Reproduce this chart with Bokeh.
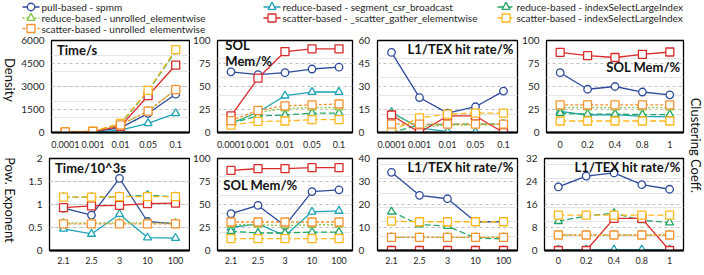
from math import pi
from bokeh.plotting import figure
from bokeh.models import (Range1d, FactorRange, LinearAxis, Grid, FixedTicker, Label,
                          ColumnDataSource, NumeralTickFormatter)
from bokeh.core.properties import value
from bokeh.layouts import row, column
from bokeh.embed import file_html
from bokeh.resources import INLINE

FONT = "Lato"
TXT = "#262626"

# ---------------- data ----------------
density = ["0.0001", "0.001", "0.01", "0.05", "0.1"]
pow_exponent = ["2.1", "2.5", "3", "10", "100"]
clustering = ["0", "0.2", "0.4", "0.8", "1"]

series_names = [
    "pull-based - spmm",
    "reduce-based - segment_csr_broadcast",
    "reduce-based - indexSelectLargeIndex",
    "reduce-based - unrolled_elementwise",
    "scatter-based - _scatter_gather_elementwise",
    "scatter-based - indexSelectLargeIndex",
    "scatter-based - unrolled_elementwise",
]

# each list: values of the 7 series, in legend order
density_time_s = [
    [50, 60, 300, 1250, 2500],
    [20, 30, 150, 600, 1250],
    [40, 60, 550, 2700, 5300],
    [40, 60, 500, 1400, 2800],
    [40, 60, 400, 2400, 4400],
    [50, 80, 600, 2750, 5400],
    [40, 70, 500, 1400, 2800],
]
density_sol_mem = [
    [66, 63, 65, 69, 71],
    [10, 22, 40, 44, 44],
    [10, 18, 19, 21, 21],
    [10, 22, 26, 27, 27],
    [18, 59, 88, 91, 91],
    [8, 12, 12.5, 14, 14],
    [13, 24, 29, 30, 31],
]
density_l1_hit = [
    [87, 38, 21, 28, 45],
    [22, 5, 1, 0.5, 0],
    [0, 8, 9, 9, 9],
    [20, 6, 8, 8, 9],
    [19, 0, 18, 18, 0],
    [2, 16, 20, 21, 21],
    [9, 9, 9, 9, 9],
]
clustering_sol_mem = [
    [65, 47, 50, 44, 41],
    [23, 19, 19.5, 17.5, 17],
    [21, 20, 20, 19.5, 19.5],
    [27, 27, 27, 27, 27],
    [87, 83.5, 81.5, 85, 87.5],
    [12.5, 12.5, 12.5, 12.5, 12.5],
    [30, 30, 30, 30, 30],
]
pow_time_ks = [
    [0.92, 0.77, 1.57, 0.63, 0.58],
    [0.47, 0.36, 0.79, 0.28, 0.27],
    [1.16, 1.16, 1.17, 1.2, 1.17],
    [0.6, 0.6, 0.6, 0.6, 0.6],
    [0.93, 0.97, 0.98, 1.02, 1.03],
    [1.16, 1.16, 1.17, 1.17, 1.17],
    [0.58, 0.58, 0.58, 0.58, 0.58],
]
pow_sol_mem = [
    [40, 49, 27, 64, 66],
    [25, 29, 16, 42, 43],
    [21, 19, 19, 20, 20],
    [28, 28, 27, 28, 28],
    [87, 89, 89, 90, 90],
    [13, 13, 13, 13, 13],
    [31, 31, 31, 31, 31],
]
pow_l1_hit = [
    [27.2, 19.2, 18, 10, 10],
    [0, 0, 0, 0, 0],
    [13.5, 9, 8.5, 4.3, 4],
    [4.6, 4.6, 4.6, 4.6, 4.6],
    [0, 0, 0, 0, 0],
    [10.2, 10, 10, 10, 10],
    [4.6, 4.6, 4.6, 4.6, 4.6],
]
clustering_l1_hit = [
    [22.1, 25.9, 27, 22.9, 21.3],
    [0.3, 0.3, 0.3, 0.3, 0.3],
    [10.2, 12, 13, 10.5, 9.7],
    [5.4, 5.4, 5.4, 5.4, 5.4],
    [0, 0, 11.2, 11.2, 0],
    [12.3, 12.3, 12.3, 12.3, 12.3],
    [5.4, 5.4, 5.4, 5.4, 5.4],
]

ticks_time_s = [0, 1500, 3000, 4500, 6000]
ticks_pct = [0, 25, 50, 75, 100]
ticks_sol_right_top = [0, 15, 30, 45, 60]
ticks_time_ks = [0, 0.5, 1, 1.5, 2]
ticks_sol_right_bottom = [0, 10, 20, 30, 40]
ticks_l1_bottom = [0, 8, 16, 24, 32]

# ---------------- styles ----------------
colors = ["#2E4B9B", "#1CA3B5", "#23A565", "#86C441", "#DA2A2A", "#FFB81C", "#F5922F"]
markers = ["circle", "triangle", "triangle", "triangle", "square", "square", "square"]
dashes = ["solid", "solid", "6 3", "2 2", "solid", "6 3", "3 2"]
msizes = [7.5, 8, 8, 8, 8, 8, 8]


def style_axis(ax, standoff, size="10px"):
    ax.major_tick_out = 0
    ax.major_tick_in = 0
    ax.minor_tick_out = 0
    ax.minor_tick_in = 0
    ax.major_label_text_font = FONT
    ax.major_label_text_font_size = size
    ax.major_label_text_color = TXT
    ax.major_label_standoff = standoff


def panel(cats, vals, yticks, width, height, left, right, top, bottom, xstandoff,
          titles, left_axis=True, right_ticks=None):
    ymax = yticks[-1]
    p = figure(width=width, height=height, x_range=FactorRange(factors=cats),
               y_range=Range1d(0, ymax), y_axis_location=None,
               toolbar_location=None, output_backend="svg",
               min_border_left=left, min_border_right=right,
               min_border_top=top, min_border_bottom=bottom)
    p.xgrid.visible = False
    p.outline_line_color = "black"
    p.outline_line_width = 1.3
    p.outline_line_alpha = 1
    xa = p.xaxis[0]
    style_axis(xa, xstandoff, "9px")
    xa.axis_line_color = "black"
    xa.axis_line_width = 2
    grid = Grid(dimension=1, ticker=FixedTicker(ticks=yticks[1:-1]),
                grid_line_color="#BFBFBF", grid_line_dash="3 3", grid_line_width=1)
    p.add_layout(grid, "center")
    if left_axis:
        ya = LinearAxis(ticker=FixedTicker(ticks=yticks),
                        formatter=NumeralTickFormatter(format="0.[0]"))
        style_axis(ya, 7)
        ya.axis_line_color = None
        p.add_layout(ya, "left")
    if right_ticks:
        p.extra_y_ranges = {"r": Range1d(0, right_ticks[-1])}
        ra = LinearAxis(y_range_name="r", ticker=FixedTicker(ticks=right_ticks),
                        formatter=NumeralTickFormatter(format="0.[0]"))
        style_axis(ra, 6)
        ra.axis_line_color = None
        p.add_layout(ra, "right")
    for i in range(len(series_names)):
        src = ColumnDataSource(dict(x=cats, y=vals[i]))
        p.line("x", "y", source=src, line_color=colors[i], line_width=1.3,
               line_dash=dashes[i])
        p.scatter("x", "y", source=src, marker=markers[i], size=msizes[i],
                  line_color=colors[i], line_width=1.3, fill_color="white")
    for (text, align, xf, yf) in titles:
        p.add_layout(Label(x=xf * len(cats), y=yf * ymax, text=text,
                           text_align=align, text_baseline="middle",
                           text_font=FONT, text_font_size="13px",
                           text_font_style="bold", text_color="#111111"))
    return p


def side_label(text, width, height, xf, yf):
    s = figure(width=width, height=height, x_range=Range1d(0, 1), y_range=Range1d(0, 1),
               x_axis_type=None, y_axis_type=None, toolbar_location=None,
               output_backend="svg", min_border=0, outline_line_color=None)
    s.add_layout(Label(x=xf, y=yf, text=text, angle=-pi / 2, text_align="center",
                       text_baseline="middle", text_font=FONT, text_font_size="13px",
                       text_color="#111111"))
    return s


# ---------------- legend (3 columns, filled row by row) ----------------
LEG_W, LEG_H = 704, 34
leg_col_x = [22, 263, 497]
leg_row_y = [6.5, 17.5, 28]
lg = figure(width=LEG_W, height=LEG_H, x_range=Range1d(0, LEG_W), y_range=Range1d(LEG_H, 0),
            x_axis_type=None, y_axis_type=None, min_border=0, outline_line_color=None,
            toolbar_location=None, output_backend="svg")
for i, name in enumerate(series_names):
    x0 = leg_col_x[i % 3]
    y0 = leg_row_y[i // 3]
    lg.line([x0, x0 + 17], [y0, y0], line_color=colors[i], line_width=1.3,
            line_dash=dashes[i])
    lg.scatter([x0 + 8.5], [y0], marker=markers[i], size=msizes[i],
               line_color=colors[i], line_width=1.3, fill_color="white")
    lg.text([x0 + 19], [y0], text=[name], text_font=value(FONT), text_font_size="10px",
            text_baseline="middle", text_align="left", text_color=TXT)

# ---------------- layout ----------------
H1, H2 = 118, 118
f1 = panel(density, density_time_s, ticks_time_s, 172, H1, 31, 1, 6, 20, 8,
           [("Time/s", "left", 0.04, 0.90)])
f2 = panel(density, density_sol_mem, ticks_pct, 186, H1, 24, 24, 6, 20, 8,
           [("SOL", "left", 0.058, 0.946), ("Mem/%", "left", 0.058, 0.772)],
           right_ticks=ticks_sol_right_top)
f3 = panel(density, density_l1_hit, ticks_pct, 143, H1, 1, 2, 6, 20, 8,
           [("L1/TEX hit rate/%", "right", 0.971, 0.913)], left_axis=False)
f4 = panel(clustering, clustering_sol_mem, ticks_pct, 167, H1, 25, 3, 6, 20, 8,
           [("SOL Mem/%", "right", 0.978, 0.717)])

g1 = panel(pow_exponent, pow_time_ks, ticks_time_ks, 172, H2, 31, 1, 6, 20, 6,
           [("Time/10^3s", "left", 0.04, 0.90)])
g2 = panel(pow_exponent, pow_sol_mem, ticks_pct, 186, H2, 24, 24, 6, 20, 6,
           [("SOL Mem/%", "left", 0.043, 0.717)],
           right_ticks=ticks_sol_right_bottom)
g3 = panel(pow_exponent, pow_l1_hit, ticks_l1_bottom, 143, H2, 1, 2, 6, 20, 6,
           [("L1/TEX hit rate/%", "right", 0.971, 0.913)], left_axis=False)
g4 = panel(clustering, clustering_l1_hit, ticks_l1_bottom, 167, H2, 25, 3, 6, 20, 6,
           [("L1/TEX hit rate/%", "right", 0.978, 0.913)])

row1 = row(side_label("Density", 18, H1, 0.53, 0.57), f1, f2, f3, f4)
row2 = row(side_label("Pow. Exponent", 18, H2, 0.53, 0.55), g1, g2, g3, g4)
body = row(column(row1, row2), side_label("Clustering Coeff.", 18, H1 + H2, 0.5, 0.53))
p = column(lg, body)

open("out.html", "w").write(file_html(p, INLINE))
